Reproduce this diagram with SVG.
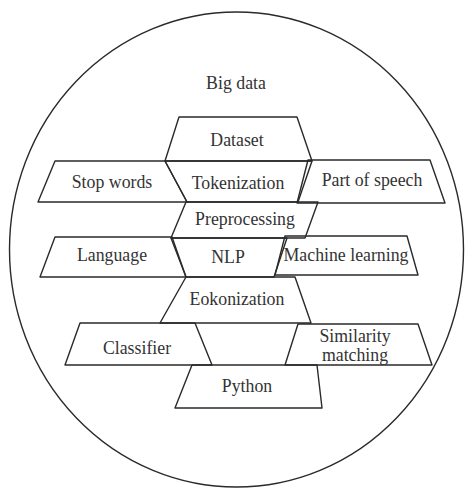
<svg xmlns="http://www.w3.org/2000/svg" width="472" height="489" viewBox="0 0 472 489">
<style>
.s{fill:none;stroke:#2a2a2a;stroke-width:1.4;stroke-linejoin:round}
.t{font-family:'Liberation Serif','DejaVu Serif',serif;font-size:17.8px;fill:#333;text-anchor:middle}
</style>
<rect width="472" height="489" fill="#fff"/>
<g id="bigdata">
<ellipse class="s" cx="236.5" cy="249.5" rx="227" ry="237.5"/>
<text class="t" x="236" y="89">Big data</text>
</g>
<g id="dataset">
<polygon class="s" points="179,117 297,117 312,161 165,161"/>
<text class="t" x="237" y="146">Dataset</text>
</g>
<g id="tokenization">
<polygon class="s" points="165,161 312,161 298,202 187,202"/>
<text class="t" x="238" y="189">Tokenization</text>
</g>
<g id="stopwords">
<polygon class="s" points="55,161 165,161 187,202 38,202"/>
<text class="t" x="112" y="188">Stop words</text>
</g>
<g id="partofspeech">
<polygon class="s" points="308,160 430,160 445,203 297,203"/>
<text class="t" x="372" y="186">Part of speech</text>
</g>
<g id="preprocessing">
<polygon class="s" points="186,202 318,202 305,238 171,238"/>
<text class="t" x="245" y="225">Preprocessing</text>
</g>
<g id="language">
<polygon class="s" points="55,237 172,237 186,277 40,277"/>
<text class="t" x="112" y="261">Language</text>
</g>
<g id="nlp">
<polygon class="s" points="171,238 287,238 274,277 186,277"/>
<text class="t" x="228" y="263">NLP</text>
</g>
<g id="machinelearning">
<polygon class="s" points="285,236 407,236 418,275 275,275"/>
<text class="t" x="346" y="261">Machine learning</text>
</g>
<g id="eokonization">
<polygon class="s" points="186,277 295,277 311,323 160,323"/>
<text class="t" x="237" y="305">Eokonization</text>
</g>
<g id="classifier">
<polygon class="s" points="80,323 195,323 212,365 65,365"/>
<text class="t" x="137" y="354">Classifier</text>
</g>
<g id="similarity">
<polygon class="s" points="298,324 418,324 432,365 285,365"/>
<text class="t" x="355" y="342">Similarity</text>
<text class="t" x="355" y="361">matching</text>
</g>
<g id="python">
<polygon class="s" points="192,365 317,365 322,408 175,408"/>
<text class="t" x="247" y="392">Python</text>
</g>
<g id="connectors"></g>
</svg>
